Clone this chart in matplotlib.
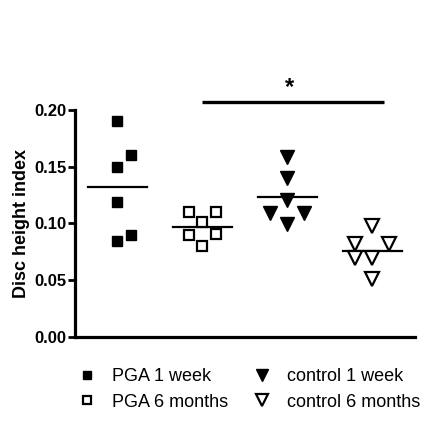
import matplotlib
matplotlib.use("Agg")
import matplotlib.pyplot as plt
from matplotlib.lines import Line2D
import numpy as np

plt.rcParams['font.family'] = ['Liberation Sans', 'DejaVu Sans']

# disc height index per animal
pga_1wk = [0.190, 0.160, 0.150, 0.119, 0.090, 0.0846]
pga_6mo = [0.110, 0.110, 0.101, 0.090, 0.0905, 0.0804]
ctrl_1wk = [0.159, 0.140, 0.121, 0.109, 0.109, 0.0996]
ctrl_6mo = [0.098, 0.082, 0.082, 0.070, 0.070, 0.051]
labels = ["PGA 1 week", "PGA 6 months", "control 1 week", "control 6 months"]
yticks = [0.00, 0.05, 0.10, 0.15, 0.20]

# horizontal spread of the points inside each column (layout only)
spread = [
    [0, 0.16, 0, 0, 0.16, 0],
    [-0.16, 0.16, 0, -0.16, 0.16, 0],
    [0, 0, 0, -0.2, 0.2, 0],
    [0, -0.2, 0.2, -0.2, 0, 0],
]

groups = [pga_1wk, pga_6mo, ctrl_1wk, ctrl_6mo]
styles = [
    dict(marker='s', ms=6.8, mfc='black', mec='black', mew=1.0),
    dict(marker='s', ms=6.8, mfc='white', mec='black', mew=1.6),
    dict(marker='v', ms=9.5, mfc='black', mec='black', mew=1.0),
    dict(marker='v', ms=9.5, mfc='white', mec='black', mew=1.6),
]

fig = plt.figure(figsize=(4.23, 4.48), dpi=100)
ax = fig.add_axes([0.1773, 0.2478, 0.8037, 0.5067])

handles = []
for i, (vals, offs, st) in enumerate(zip(groups, spread, styles)):
    x = i + np.array(offs)
    ax.plot(x, vals, linestyle='none', zorder=3, **st)
    m = np.mean(vals)
    ax.plot([i - 0.345, i + 0.345], [m, m], color='black', lw=1.6, zorder=2)
    leg_st = dict(st)
    leg_st['ms'] = st['ms'] * 0.85
    handles.append(Line2D([], [], linestyle='none', **leg_st))

# significance bar between PGA 6 months and control 6 months
ax.plot([0.99, 3.13], [0.2073, 0.2073], color='black', lw=2.4, clip_on=False,
        solid_capstyle='butt')
ax.text(2.02, 0.2195, "*", ha='center', va='center', fontsize=17, fontweight='bold')

ax.set_xlim(-0.5, 3.5)
ax.set_ylim(0, 0.2)
ax.set_yticks(yticks)
ax.set_yticklabels([f"{t:.2f}" for t in yticks], fontsize=12, fontweight='bold')
ax.set_xticks([])
ax.set_ylabel("Disc height index", fontsize=13, fontweight='bold', labelpad=3)
for s in ['top', 'right']:
    ax.spines[s].set_visible(False)
for s in ['left', 'bottom']:
    ax.spines[s].set_linewidth(2.3)
ax.tick_params(axis='y', direction='out', length=5, width=2.0, pad=1)

fig.legend(handles, labels, loc='upper left', bbox_to_anchor=(0.184, 0.178),
           ncol=2, frameon=False, fontsize=13, handlelength=1.0,
           handletextpad=0.9, columnspacing=1.35, labelspacing=0.47,
           borderaxespad=0, borderpad=0)

fig.savefig("out.png", dpi=100)
